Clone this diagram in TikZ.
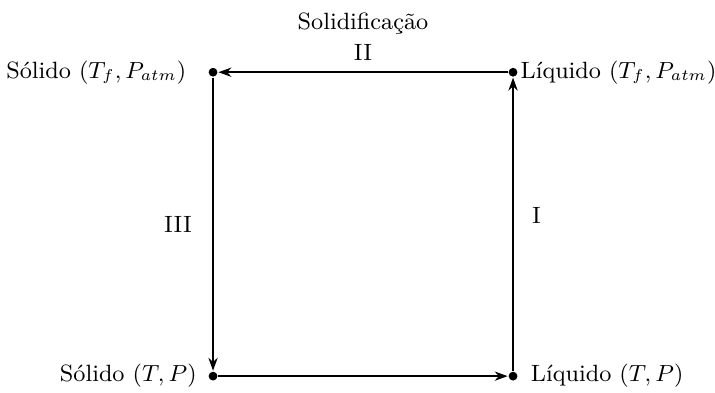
\documentclass[tikz,border=0pt]{standalone}
\usepackage{amsmath}
\usepackage{tikz}
\usetikzlibrary{
    positioning,
    arrows.meta
}
\tikzset{
    >={Stealth[length=5pt,width=3.6pt]},
    ponto/.style={
        circle,
        fill,
        inner sep=0pt,
        minimum size=3.4pt
    },
    rotulo/.style={
        inner sep=1pt
    }
}

\begin{document}
\begin{tikzpicture}[
    font={\fontsize{9.1}{11}\selectfont},
    thick
]
    \useasboundingbox (0,0) rectangle (9.70,5.32);

    % Estados
    \node[ponto] (sfp) at (2.89,4.34)  {};
    \node[ponto] (lfp) at (6.96,4.34)  {};
    \node[ponto] (stp) at (2.89,0.217) {};
    \node[ponto] (ltp) at (6.96,0.217) {};

    % Rotulos dos estados
    \node[rotulo, left=0.24cm of sfp]   (tsfp) {S\'olido $(T_f, P_{atm})$};
    \node[rotulo, right=-0.02cm of lfp] (tlfp) {L\'iquido $(T_f, P_{atm})$};
    \node[rotulo, left=0.10cm of stp]   (tstp) {S\'olido $(T, P)$};
    \node[rotulo, right=0.12cm of ltp]  (tltp) {L\'iquido $(T, P)$};

    % Processos
    \path[->, line width=0.6pt]

        % aquecimento ate a fusao
        (stp)
            edge (ltp)

        % I
        (ltp)
            edge node[right=0.13cm, pos=0.53] (p1) {I} (lfp)

        % II: solidificacao
        (lfp)
            edge node[above=0.03cm] (p2) {II} (sfp)

        % III
        (sfp)
            edge node[left=0.16cm] (p3) {III} (stp);

    \node[rotulo, above=-0.04cm of p2] (sol) {Solidifica\c{c}\~ao};

\end{tikzpicture}
\end{document}
